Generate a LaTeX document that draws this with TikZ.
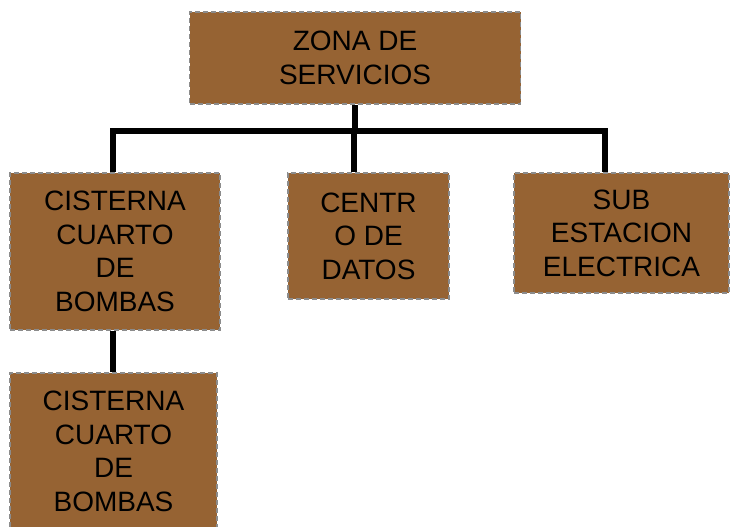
\documentclass[tikz,border=0pt]{standalone}
\usepackage{fontspec}
\setmainfont{Liberation Sans}
\definecolor{cafe}{RGB}{150,99,51}
\definecolor{borde}{RGB}{140,140,140}

\begin{document}
\begin{tikzpicture}[x=1pt, y=1pt,
  caja/.style={draw=borde, line width=1.2pt, dash pattern=on 5pt off 3pt,
    fill=cafe, rectangle, align=center, inner sep=0pt,
    font=\fontsize{28}{33.5}\selectfont},
  enlace/.style={line width=6pt, black}]
  \useasboundingbox (0,0) rectangle (731,527);

  % cajas
  \node[caja, minimum width=331, minimum height=92]  (zona)   at (355,469)   {ZONA DE\\SERVICIOS};
  \node[caja, minimum width=210, minimum height=157] (cis1)   at (115,275.5) {CISTERNA\\CUARTO\\DE\\BOMBAS};
  \node[caja, minimum width=161, minimum height=126] (centro) at (368.5,291) {CENTR\\O DE\\DATOS};
  \node[caja, minimum width=215, minimum height=120] (sub)    at (621.5,294) {SUB\\ESTACION\\ELECTRICA};
  \node[caja, minimum width=207, minimum height=157] (cis2)   at (113.5,75.5) {CISTERNA\\CUARTO\\DE\\BOMBAS};

  % barra horizontal y puntos de bajada
  \coordinate (barra) at (0,395.5);
  \coordinate (b1) at ([xshift=-2pt]cis1.north);
  \coordinate (b2) at ([xshift=-14.5pt]centro.north);
  \coordinate (b3) at ([xshift=-16.5pt]sub.north);

  \draw[enlace] (zona.south) -- (zona.south |- barra);
  \draw[enlace] (b1) -- (b1 |- barra) -- (b3 |- barra) -- (b3);
  \draw[enlace] (b2) -- (b2 |- barra);
  \draw[enlace] (b1 |- cis1.south) -- (b1 |- cis2.north);
\end{tikzpicture}
\end{document}
